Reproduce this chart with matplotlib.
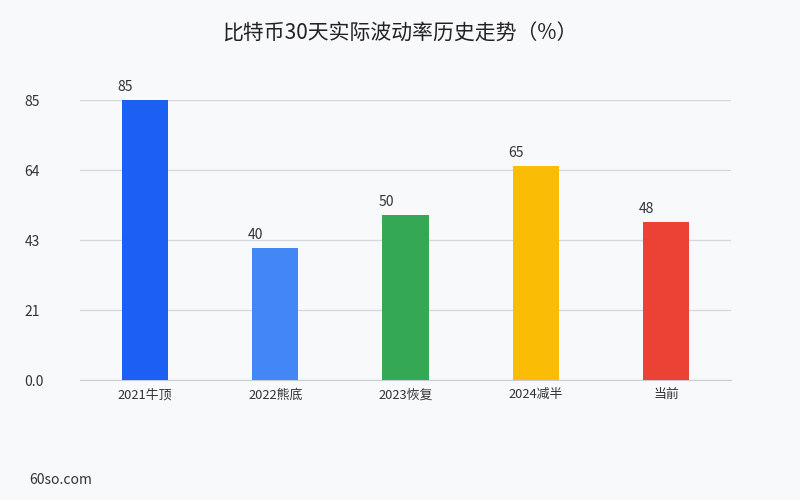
import matplotlib
matplotlib.use('Agg')
import matplotlib.pyplot as plt
import numpy as np

plt.rcParams['font.family'] = ['Noto Sans CJK SC', 'DejaVu Sans']

categories = ['2021牛顶', '2022熊底', '2023恢复', '2024减半', '当前']
values = [85, 40, 50, 65, 48]
colors = ['#1b5ff3', '#4287f5', '#34a853', '#fbbc05', '#ea4335']
yticks = [0, 21.25, 42.5, 63.75, 85]
ytick_labels = ['0.0', '21', '43', '64', '85']

bg = '#f8f9fb'
fig = plt.figure(figsize=(8, 5), dpi=100, facecolor=bg)
ax = fig.add_axes([0.1, 0.24, 0.814, 0.56], facecolor=bg)

x = np.arange(len(categories))
ax.bar(x, values, width=0.355, color=colors, zorder=3)
for xi, v in zip(x, values):
    ax.text(xi - 0.15, v + 1.8, str(v), ha='center', va='bottom', fontsize=10, color='#333333')

ax.set_xlim(-0.5, len(categories) - 0.5)
ax.set_ylim(0, 85)
ax.set_yticks(yticks)
ax.set_yticklabels(ytick_labels, ha='left')
ax.set_xticks(x)
ax.set_xticklabels(categories)
ax.tick_params(axis='y', length=0, pad=40, labelsize=10, labelcolor='#333333')
ax.tick_params(axis='x', length=0, pad=6, labelsize=9.3, labelcolor='#333333')
ax.grid(axis='y', color='#d3d7de', linewidth=0.9, zorder=0)
for s in ['top', 'right', 'left']:
    ax.spines[s].set_visible(False)
ax.spines['bottom'].set_color('#c8ccd4')

fig.text(0.5, 0.932, '比特币30天实际波动率历史走势（%）', ha='center', va='center',
         fontsize=15, color='#222222')
fig.text(0.037, 0.04, '60so.com', ha='left', va='center', fontsize=10, color='#333333')

fig.savefig('out.png', dpi=100, facecolor=bg)
